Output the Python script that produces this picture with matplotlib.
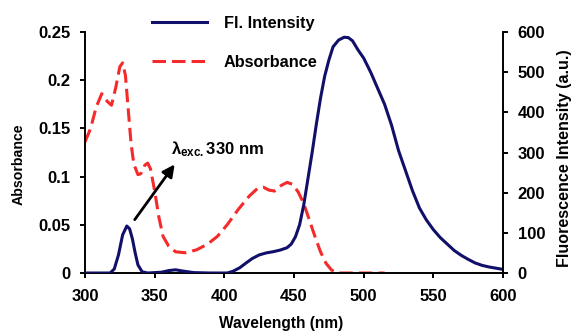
import matplotlib
matplotlib.use("Agg")
import matplotlib.pyplot as plt

plt.rcParams['font.family'] = ['Liberation Sans', 'DejaVu Sans']
plt.rcParams['font.weight'] = 'bold'
plt.rcParams['mathtext.fontset'] = 'custom'
plt.rcParams['mathtext.bf'] = 'Liberation Sans:bold'
plt.rcParams['mathtext.rm'] = 'Liberation Sans:bold'

# absorbance spectrum (left axis)
abs_wl = [300, 304, 308, 312, 316, 319, 322, 325, 327, 329, 331, 333, 335, 338,
          340, 343, 345, 347, 350, 353, 356, 360, 365, 372, 380, 388, 395, 402,
          410, 418, 424, 428, 432, 436, 441, 445, 449, 453, 457, 461, 465, 469,
          473, 477, 481, 490, 500, 515]
abs_val = [0.136, 0.150, 0.172, 0.186, 0.178, 0.174, 0.192, 0.214, 0.218, 0.205,
           0.170, 0.135, 0.113, 0.102, 0.103, 0.112, 0.114, 0.108, 0.085, 0.058,
           0.038, 0.028, 0.022, 0.021, 0.024, 0.030, 0.038, 0.050, 0.066, 0.080,
           0.088, 0.089, 0.086, 0.085, 0.091, 0.094, 0.092, 0.084, 0.072, 0.055,
           0.038, 0.022, 0.010, 0.003, 0.0, 0.0, 0.0, 0.0]

# fluorescence spectrum (right axis)
fl_wl = [300, 318, 321, 324, 327, 330, 332, 334, 336, 338, 341, 345, 355, 360,
         365, 370, 378, 390, 402, 406, 411, 416, 420, 425, 430, 435, 440, 445,
         448, 451, 454, 457, 460, 463, 466, 469, 472, 475, 478, 482, 486, 489,
         492, 496, 500, 505, 510, 515, 520, 525, 530, 535, 540, 545, 550, 555,
         560, 565, 570, 575, 580, 585, 590, 595, 600]
fl_val = [0, 0, 10, 45, 95, 117, 110, 85, 50, 20, 3, 0, 2, 6, 8, 5, 1, 0, 0, 4,
          13, 26, 36, 45, 50, 53, 57, 63, 72, 90, 120, 170, 235, 300, 370, 435,
          490, 530, 563, 580, 587, 586, 578, 555, 535, 500, 460, 420, 368, 305,
          255, 205, 162, 132, 108, 88, 72, 56, 44, 34, 25, 19, 15, 12, 9]

navy = '#10106a'
red = '#f52a2a'

fig = plt.figure(figsize=(5.76, 3.31), dpi=100)
ax = fig.add_axes([0.1476, 0.1752, 0.7257, 0.7281])
ax2 = ax.twinx()

l_abs, = ax.plot(abs_wl, abs_val, color=red, lw=2.2, dashes=(4.4, 2.0))
l_fl, = ax2.plot(fl_wl, fl_val, color=navy, lw=2.2)

ax.set_xlim(300, 600)
ax.set_ylim(0, 0.25)
ax2.set_ylim(0, 600)
ax.set_xticks([300, 350, 400, 450, 500, 550, 600])
ax.set_yticks([0, 0.05, 0.1, 0.15, 0.2, 0.25])
ax.set_yticklabels(['0', '0.05', '0.1', '0.15', '0.2', '0.25'])
ax2.set_yticks([0, 100, 200, 300, 400, 500, 600])

for a in (ax, ax2):
    a.spines['top'].set_visible(False)
    for s in a.spines.values():
        s.set_linewidth(1.4)
    a.tick_params(direction='out', length=3.6, width=1.4, labelsize=12, pad=7)
ax.tick_params(axis='x', pad=8)
ax.spines['right'].set_visible(False)
ax2.spines['left'].set_visible(False)
ax2.spines['bottom'].set_visible(False)

ax.set_xlabel('Wavelength (nm)', fontsize=11.2, fontweight='bold')
ax.set_ylabel('Absorbance', fontsize=10.2, fontweight='bold')
ax2.set_ylabel('Fluorescence Intensity (a.u.)', fontsize=11.6, fontweight='bold')
ax.xaxis.set_label_coords(0.47, -0.21)
ax.yaxis.set_label_coords(-0.158, 0.452)
ax2.yaxis.set_label_coords(1.148, 0.475)
ax.xaxis.label.set_va('center')
ax.yaxis.label.set_va('center')
ax2.yaxis.label.set_va('center')

ax.annotate('', xy=(365.5, 0.115), xytext=(334.5, 0.053),
            arrowprops=dict(arrowstyle='-|>', color='black', lw=2, mutation_scale=18))
ax.text(362, 0.128, r'$\mathbf{\lambda_{exc.}}$330 nm', fontsize=12, fontweight='bold',
        va='center', ha='left')

fig.legend([l_fl, l_abs], ['Fl. Intensity', 'Absorbance'], loc='upper left',
           bbox_to_anchor=(152 / 576, 1 - 16 / 331), frameon=False, fontsize=11.7,
           handlelength=3.4, handletextpad=1.0, labelspacing=1.45,
           borderpad=0, borderaxespad=0)

fig.savefig('out.png', dpi=100)
